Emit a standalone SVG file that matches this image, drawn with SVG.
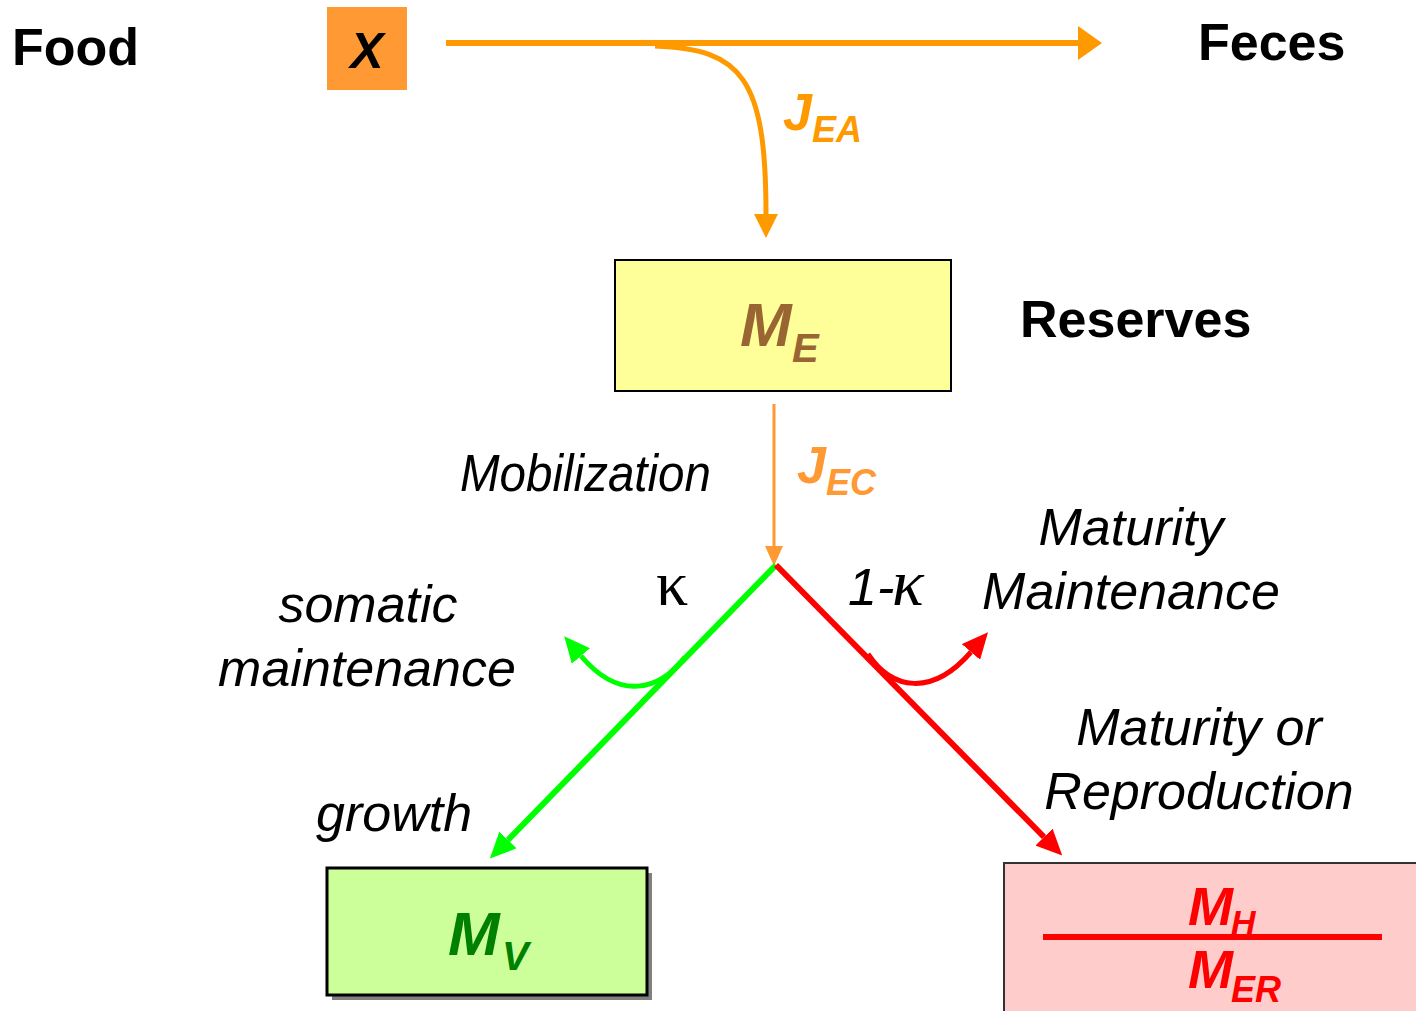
<svg xmlns="http://www.w3.org/2000/svg" width="1416" height="1011" viewBox="0 0 1416 1011">
<style>
.lbl{font-family:"Liberation Sans",Arial,sans-serif;font-size:52px;fill:#000}
.b{font-weight:bold}
.i{font-style:italic}
.bi{font-family:"Liberation Sans",Arial,sans-serif;font-weight:bold;font-style:italic}
</style>
<defs>
<marker id="aBig" markerUnits="userSpaceOnUse" markerWidth="24" markerHeight="34" viewBox="0 0 24 34" refX="0" refY="17" orient="auto"><path d="M0,0 L24,17 L0,34 z" fill="#FF9900"/></marker>
<marker id="aOr" markerUnits="userSpaceOnUse" markerWidth="24" markerHeight="24" viewBox="0 0 24 24" refX="0" refY="12" orient="auto"><path d="M0,0 L24,12 L0,24 z" fill="#FF9900"/></marker>
<marker id="aEC" markerUnits="userSpaceOnUse" markerWidth="20" markerHeight="18" viewBox="0 0 20 18" refX="0" refY="9" orient="auto"><path d="M0,0 L20,9 L0,18 z" fill="#FF9933"/></marker>
<marker id="aG" markerUnits="userSpaceOnUse" markerWidth="26" markerHeight="24" viewBox="0 0 26 24" refX="0" refY="12" orient="auto"><path d="M0,0 L26,12 L0,24 z" fill="#00FF00"/></marker>
<marker id="aR" markerUnits="userSpaceOnUse" markerWidth="26" markerHeight="24" viewBox="0 0 26 24" refX="0" refY="12" orient="auto"><path d="M0,0 L26,12 L0,24 z" fill="#FF0000"/></marker>
</defs>
<rect width="1416" height="1011" fill="#fff"/>

<g id="connectors" fill="none">
<line x1="446" y1="43" x2="1078" y2="43" stroke="#FF9900" stroke-width="6" marker-end="url(#aBig)"/>
<path d="M655,46 C742,49 766,78 766,214" stroke="#FF9900" stroke-width="5" marker-end="url(#aOr)"/>
<line x1="774" y1="404" x2="774" y2="546" stroke="#FF9933" stroke-width="3" marker-end="url(#aEC)"/>
<line x1="776" y1="565" x2="508" y2="840" stroke="#00FF00" stroke-width="6" marker-end="url(#aG)"/>
<path d="M685,657 C660,690 620,702 581,656" stroke="#00FF00" stroke-width="5" marker-end="url(#aG)"/>
<line x1="776" y1="565" x2="1044" y2="837" stroke="#FF0000" stroke-width="6" marker-end="url(#aR)"/>
<path d="M868,654 C892,690 932,697 971,652" stroke="#FF0000" stroke-width="5" marker-end="url(#aR)"/>
</g>

<g id="food"><text class="lbl b" x="12" y="65">Food</text></g>
<g id="feces"><text class="lbl b" x="1198" y="60">Feces</text></g>
<g id="reserves-label"><text class="lbl b" x="1020" y="337">Reserves</text></g>

<g id="node-X">
<rect x="327" y="7" width="80" height="83" fill="#FF9933"/>
<text class="bi" x="367" y="68" font-size="50" text-anchor="middle" fill="#000">X</text>
</g>

<g id="label-JEA" fill="#FF9900">
<text class="bi" x="783" y="130" font-size="52">J</text>
<text class="bi" x="812" y="142" font-size="36">EA</text>
</g>

<g id="node-ME">
<rect x="615" y="260" width="336" height="131" fill="#FFFF99" stroke="#000" stroke-width="2"/>
<text class="bi" x="740" y="346" font-size="62" fill="#996633">M</text>
<text class="bi" x="792" y="362" font-size="40" fill="#996633">E</text>
</g>

<g id="label-mobilization"><text class="lbl i" x="460" y="491" font-size="44" textLength="251" lengthAdjust="spacingAndGlyphs">Mobilization</text></g>
<g id="label-JEC" fill="#FF9933">
<text class="bi" x="797" y="483" font-size="52">J</text>
<text class="bi" x="826" y="495" font-size="36">EC</text>
</g>

<g id="label-kappa"><text x="656" y="605" font-family="Liberation Serif,Times New Roman,serif" font-size="64" fill="#000">κ</text></g>
<g id="label-1kappa">
<text class="lbl i" x="848" y="605">1-</text>
<text x="892" y="605" font-family="Liberation Serif,Times New Roman,serif" font-style="italic" font-size="66" fill="#000">κ</text>
</g>

<g id="label-somatic">
<text class="lbl i" x="368" y="622" text-anchor="middle">somatic</text>
<text class="lbl i" x="367" y="686" text-anchor="middle">maintenance</text>
</g>
<g id="label-maturity-maint">
<text class="lbl i" x="1131" y="545" text-anchor="middle">Maturity</text>
<text class="lbl i" x="1131" y="609" text-anchor="middle">Maintenance</text>
</g>
<g id="label-growth"><text class="lbl i" x="316" y="831">growth</text></g>
<g id="label-maturity-repro">
<text class="lbl i" x="1199" y="745" text-anchor="middle">Maturity or</text>
<text class="lbl i" x="1199" y="809" text-anchor="middle">Reproduction</text>
</g>

<g id="node-MV">
<rect x="332" y="873" width="320" height="127" fill="#808080"/>
<rect x="327" y="868" width="320" height="127" fill="#CCFF99" stroke="#000" stroke-width="3"/>
<text class="bi" x="448" y="955" font-size="62" fill="#008000">M</text>
<text class="bi" x="502" y="970" font-size="40" fill="#008000">V</text>
</g>

<g id="node-MH-MER">
<rect x="1004" y="863" width="430" height="170" fill="#FFCCCC" stroke="#333" stroke-width="2"/>
<line x1="1043" y1="937" x2="1382" y2="937" stroke="#FF0000" stroke-width="6"/>
<text class="bi" x="1188" y="925" font-size="54" fill="#FF0000">M</text>
<text class="bi" x="1231" y="934" font-size="34" fill="#FF0000">H</text>
<text class="bi" x="1188" y="988" font-size="54" fill="#FF0000">M</text>
<text class="bi" x="1231" y="1002" font-size="36" fill="#FF0000">ER</text>
</g>
</svg>
